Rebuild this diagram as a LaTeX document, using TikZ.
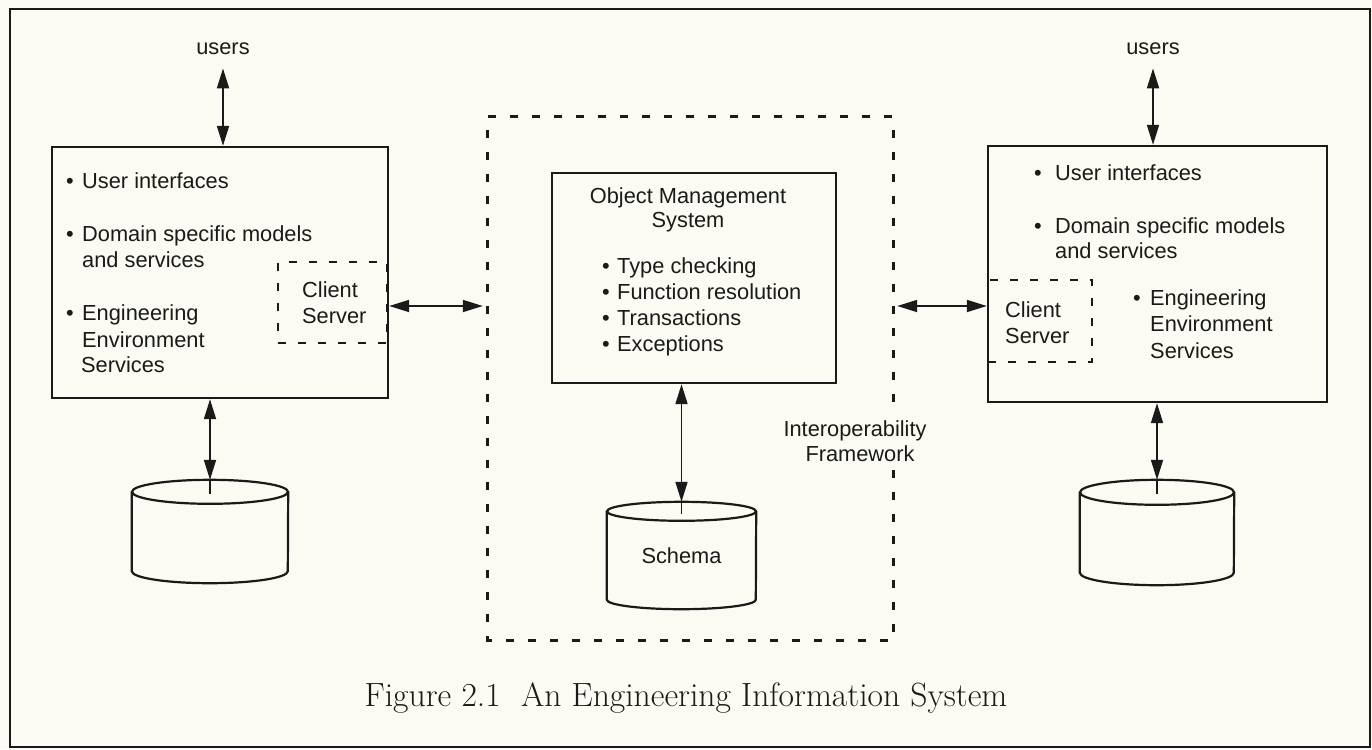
\documentclass[tikz,border=0pt]{standalone}
\usepackage{fontspec}
\newfontfamily\labfont{Liberation Sans}
\usetikzlibrary{arrows.meta,calc}
\definecolor{paper}{HTML}{FBFBF3}
\definecolor{ink}{HTML}{1A1A1A}
% bullet in a box of given width, so that item text starts at a fixed place
\newcommand\bul[1]{\makebox[#1][l]{\textbullet}}
% database drum drawn over a named rectangle node: #1 node, #2 x radius, #3 end radius
\newcommand\drumoutline[3]{%
  \draw[wire] ([yshift=-#3]#1.north west) -- ([yshift=#3]#1.south west)
    arc[start angle=180, end angle=360, x radius=#2, y radius=#3]
    -- ([yshift=-#3]#1.north east);
  \draw[wire] ([yshift=-#3]#1.north) ellipse [x radius=#2, y radius=#3];
}
\tikzset{
  lbl/.style={font=\labfont\fontsize{21.8}{25}\selectfont, text=ink, inner sep=0pt, anchor=base west},
  lblc/.style={lbl, anchor=base},
  solidbox/.style={draw=ink, line width=2.4pt, inner sep=0pt},
  csbox/.style={draw=ink, line width=2.2pt, inner sep=0pt, dash pattern=on 8pt off 12pt},
  area/.style={inner sep=0pt},
  framedash/.style={draw=ink, line width=2.8pt, dash pattern=on 8pt off 14pt},
  drumnode/.style={inner sep=0pt, font=\labfont\fontsize{21.8}{25}\selectfont, text=ink},
  wire/.style={draw=ink, line width=2.2pt},
  tipT/.tip={Triangle[length=20pt,width=12pt]},
  dbl/.style={draw=ink, line width=1.8pt, tipT-tipT},
}
\begin{document}
\begin{tikzpicture}[x=1pt,y=-1pt]
\useasboundingbox (0,0) rectangle (1372,749);
\fill[paper] (0,0) rectangle (1372,749);
% outer frame
\draw[ink, line width=2pt] (10,9) rectangle (1370,747);

% left engineering system
\node[solidbox, minimum width=336pt, minimum height=251pt] (boxL) at (220,272.5) {};
\node[csbox, minimum width=109pt, minimum height=81pt] (csL) at (332.5,302.5) {};
\node[lblc] (uL) at (223,55) {users};
\node[lbl] (l1) at (66,188) {\bul{16pt}User interfaces};
\node[lbl] (l2) at (66,241) {\bul{16pt}Domain specific models};
\node[lbl] (l3) at (82,267) {and services};
\node[lbl] (l4) at (66,320) {\bul{16pt}Engineering};
\node[lbl] (l5) at (82,347) {Environment};
\node[lbl] (l6) at (81,372) {Services};
\node[lbl] (c1) at (302,297) {Client};
\node[lbl] (s1) at (302,323) {Server};
\node[drumnode, minimum width=156pt, minimum height=103pt] (db1) at (210,531.5) {};
\drumoutline{db1}{78pt}{12pt}

% right engineering system
\node[solidbox, minimum width=339pt, minimum height=256pt] (boxR) at (1157.5,274) {};
\node[csbox, minimum width=104pt, minimum height=82pt] (csR) at (1040,321) {};
\node[lblc] (uR) at (1153,55) {users};
\node[lbl] (r1) at (1034,180) {\bul{21pt}User interfaces};
\node[lbl] (r2) at (1034,233) {\bul{21pt}Domain specific models};
\node[lbl] (r3) at (1055,258) {and services};
\node[lbl] (c2) at (1005,317) {Client};
\node[lbl] (s2) at (1005,343) {Server};
\node[lbl] (r4) at (1133,305) {\bul{17pt}Engineering};
\node[lbl] (r5) at (1150,331) {Environment};
\node[lbl] (r6) at (1150,358) {Services};
\node[drumnode, minimum width=154pt, minimum height=105pt] (db3) at (1157,532.5) {};
\drumoutline{db3}{77pt}{12.5pt}

% interoperability framework
\node[area, minimum width=405pt, minimum height=523pt] (fw) at (690.5,378.5) {};
\coordinate (gapTop) at (0,402);
\coordinate (gapBot) at (0,468);
\draw[framedash] (fw.east |- gapTop) -- (fw.north east) -- (fw.north west)
  -- (fw.south west) -- (fw.south east) -- (fw.east |- gapBot);
\node[lblc] (iop) at (855,436) {Interoperability};
\node[lblc] (fwk) at (860,461) {Framework};

\node[solidbox, minimum width=284pt, minimum height=210pt] (oms) at (694,278) {};
\node[lblc] (o1) at (688,203) {Object Management};
\node[lblc] (o2) at (688,227) {System};
\node[lbl] (o3) at (602,273) {\bul{15pt}Type checking};
\node[lbl] (o4) at (602,299) {\bul{15pt}Function resolution};
\node[lbl] (o5) at (602,325) {\bul{15pt}Transactions};
\node[lbl] (o6) at (602,351) {\bul{15pt}Exceptions};
\node[drumnode, minimum width=149pt, minimum height=107pt] (db2) at (681.5,555.5) {Schema};
\drumoutline{db2}{74.5pt}{9.5pt}

% connectors
\coordinate (yL) at (0,306);
\coordinate (yR) at (0,306);
\draw[dbl, shorten <=13pt] (uL.south) -- (uL.south |- boxL.north);
\draw[dbl, shorten <=13pt] (uR.south) -- (uR.south |- boxR.north);
\draw[dbl] (db1.north |- boxL.south) -- (db1.north);
\draw[wire, line width=1.8pt] (db1.north) -- ++(0,14);
\draw[dbl] (db3.north |- boxR.south) -- (db3.north);
\draw[wire, line width=1.8pt] (db3.north) -- ++(0,14);
\draw[dbl] (db2.north |- oms.south) -- (db2.north);
\draw[wire, line width=1.8pt] (db2.north) -- ++(0,12);
\draw[dbl, shorten >=5pt] (boxL.east |- yL) -- (fw.west |- yL);
\draw[dbl, shorten <=4pt] (fw.east |- yR) -- (boxR.west |- yR);

% caption
\node[font=\fontsize{33.6}{38}\selectfont, text=ink, anchor=base, inner sep=0pt] (cap)
  at (686,706) {Figure 2.1\ \ An Engineering Information System};
\end{tikzpicture}
\end{document}
